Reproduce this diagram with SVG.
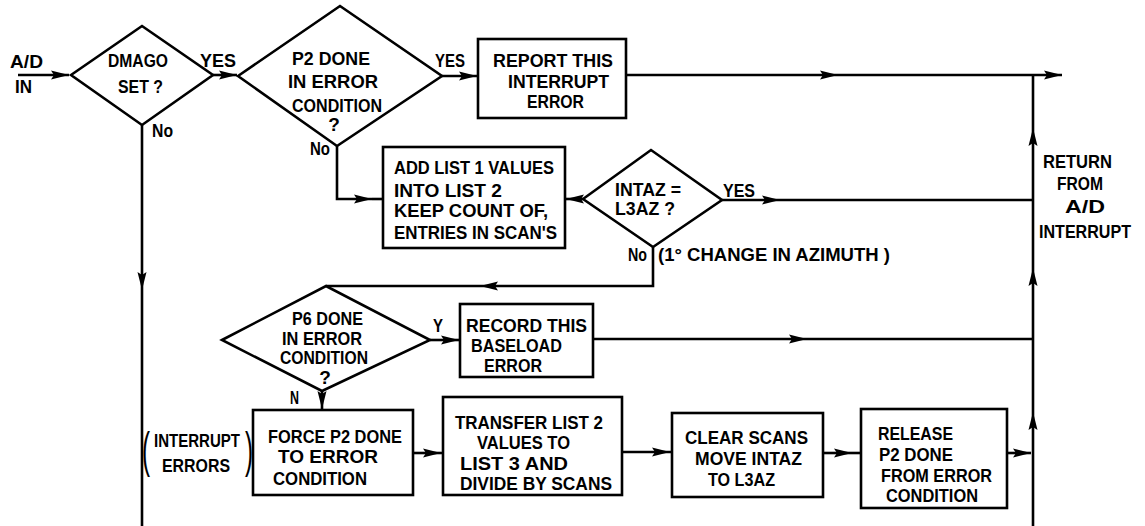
<svg xmlns="http://www.w3.org/2000/svg" width="1145" height="526" viewBox="0 0 1145 526">
<style>
.bg{fill:#fff}
.shape{fill:#fff;stroke:#000;stroke-width:2.6;stroke-linejoin:miter}
.ln{fill:none;stroke:#000;stroke-width:2.6}
.t{font-family:"Liberation Sans",Arial,sans-serif;font-weight:bold;font-size:19px;fill:#000}
.p{font-family:"Liberation Sans",Arial,sans-serif;font-weight:normal;font-size:50px;fill:#000}
</style>
<defs>
<marker id="ah" viewBox="-19 -6 20 12" refX="0" refY="0" markerWidth="20" markerHeight="12" markerUnits="userSpaceOnUse" orient="auto">
<path d="M0,0 L-18,-4.5 L-15,0 L-18,4.5 Z" fill="#000"/>
</marker>
</defs>
<rect class="bg" x="0" y="0" width="1145" height="526"/>

<g id="connectors">
<path class="ln" d="M18,75 H69" marker-end="url(#ah)"/>
<path class="ln" d="M213,75 H237" marker-end="url(#ah)"/>
<path class="ln" d="M442,76 H477" marker-end="url(#ah)"/>
<path class="ln" d="M626,75 H838" marker-end="url(#ah)"/>
<path class="ln" d="M838,75 H1062" marker-end="url(#ah)"/>
<path class="ln" d="M142,125 V290" marker-end="url(#ah)"/>
<path class="ln" d="M142,290 V526"/>
<path class="ln" d="M337,146 V199 H372" marker-end="url(#ah)"/>
<path class="ln" d="M372,199 H383"/>
<path class="ln" d="M583,199 H566" marker-end="url(#ah)"/>
<path class="ln" d="M722,200 H780" marker-end="url(#ah)"/>
<path class="ln" d="M780,200 H1033"/>
<path class="ln" d="M653,247 V286 H480" marker-end="url(#ah)"/>
<path class="ln" d="M480,286 H326"/>
<path class="ln" d="M430,340 H459" marker-end="url(#ah)"/>
<path class="ln" d="M593,339 H807" marker-end="url(#ah)"/>
<path class="ln" d="M807,339 H1033"/>
<path class="ln" d="M322,391 V409" marker-end="url(#ah)"/>
<path class="ln" d="M413,453 H441" marker-end="url(#ah)"/>
<path class="ln" d="M441,453 H443"/>
<path class="ln" d="M622,452 H670" marker-end="url(#ah)"/>
<path class="ln" d="M670,452 H672"/>
<path class="ln" d="M823,453 H852" marker-end="url(#ah)"/>
<path class="ln" d="M852,453 H861"/>
<path class="ln" d="M1007,453 H1031" marker-end="url(#ah)"/>
<path class="ln" d="M1033,526 V412" marker-end="url(#ah)"/>
<path class="ln" d="M1033,412 V268" marker-end="url(#ah)"/>
<path class="ln" d="M1033,268 V128" marker-end="url(#ah)"/>
<path class="ln" d="M1033,128 V75"/>
</g>

<g id="entry">
<text class="t" x="10" y="68" textLength="33" lengthAdjust="spacingAndGlyphs">A/D</text>
<text class="t" x="15" y="93" textLength="17" lengthAdjust="spacingAndGlyphs">IN</text>
</g>

<g id="dmago">
<polygon class="shape" points="71,75 142,26 213,75 142,125"/>
<text class="t" x="108" y="67" textLength="60" lengthAdjust="spacingAndGlyphs">DMAGO</text>
<text class="t" x="118" y="93" textLength="45" lengthAdjust="spacingAndGlyphs">SET ?</text>
<text class="t" x="152" y="137" textLength="21" lengthAdjust="spacingAndGlyphs">No</text>
<text class="t" x="200" y="67" textLength="36" lengthAdjust="spacingAndGlyphs">YES</text>
</g>

<g id="p2done">
<polygon class="shape" points="238,76 340,6 442,76 337,146"/>
<text class="t" x="292" y="65" textLength="78" lengthAdjust="spacingAndGlyphs">P2 DONE</text>
<text class="t" x="288" y="88" textLength="90" lengthAdjust="spacingAndGlyphs">IN ERROR</text>
<text class="t" x="292" y="112" textLength="90" lengthAdjust="spacingAndGlyphs">CONDITION</text>
<text class="t" x="334" y="131" text-anchor="middle">?</text>
<text class="t" x="310" y="155" textLength="20" lengthAdjust="spacingAndGlyphs">No</text>
<text class="t" x="435" y="67" textLength="30" lengthAdjust="spacingAndGlyphs">YES</text>
</g>

<g id="report">
<rect class="shape" x="478" y="39" width="148" height="79"/>
<text class="t" x="493" y="67" textLength="120" lengthAdjust="spacingAndGlyphs">REPORT THIS</text>
<text class="t" x="508" y="88" textLength="101" lengthAdjust="spacingAndGlyphs">INTERRUPT</text>
<text class="t" x="527" y="108" textLength="57" lengthAdjust="spacingAndGlyphs">ERROR</text>
</g>

<g id="addlist">
<rect class="shape" x="383" y="147" width="182" height="101"/>
<text class="t" x="394" y="174" textLength="160" lengthAdjust="spacingAndGlyphs">ADD LIST 1 VALUES</text>
<text class="t" x="394" y="197" textLength="108" lengthAdjust="spacingAndGlyphs">INTO LIST 2</text>
<text class="t" x="394" y="217" textLength="154" lengthAdjust="spacingAndGlyphs">KEEP COUNT OF,</text>
<text class="t" x="394" y="239" textLength="163" lengthAdjust="spacingAndGlyphs">ENTRIES IN SCAN'S</text>
</g>

<g id="intaz">
<polygon class="shape" points="583,199 651,150 722,200 653,247"/>
<text class="t" x="615" y="196" textLength="66" lengthAdjust="spacingAndGlyphs">INTAZ =</text>
<text class="t" x="615" y="215" textLength="60" lengthAdjust="spacingAndGlyphs">L3AZ ?</text>
<text class="t" x="723" y="197" textLength="32" lengthAdjust="spacingAndGlyphs">YES</text>
<text class="t" x="628" y="261" textLength="19" lengthAdjust="spacingAndGlyphs">No</text>
<text class="t" x="658" y="261" textLength="232" lengthAdjust="spacingAndGlyphs">(1° CHANGE IN AZIMUTH )</text>
</g>

<g id="p6done">
<polygon class="shape" points="222,340 326,286 430,340 322,391"/>
<text class="t" x="292" y="325" textLength="71" lengthAdjust="spacingAndGlyphs">P6 DONE</text>
<text class="t" x="282" y="345" textLength="80" lengthAdjust="spacingAndGlyphs">IN ERROR</text>
<text class="t" x="280" y="364" textLength="88" lengthAdjust="spacingAndGlyphs">CONDITION</text>
<text class="t" x="325" y="384" text-anchor="middle" font-size="17">?</text>
<text class="t" x="433" y="332" textLength="10" lengthAdjust="spacingAndGlyphs">Y</text>
<text class="t" x="290" y="404" textLength="9" lengthAdjust="spacingAndGlyphs">N</text>
</g>

<g id="record">
<rect class="shape" x="460" y="304" width="133" height="73"/>
<text class="t" x="466" y="332" textLength="121" lengthAdjust="spacingAndGlyphs">RECORD THIS</text>
<text class="t" x="471" y="352" textLength="91" lengthAdjust="spacingAndGlyphs">BASELOAD</text>
<text class="t" x="484" y="372" textLength="58" lengthAdjust="spacingAndGlyphs">ERROR</text>
</g>

<g id="interrupt-errors">
<text class="p" x="142" y="467" textLength="8" lengthAdjust="spacingAndGlyphs">(</text>
<text class="t" x="154" y="447" textLength="86" lengthAdjust="spacingAndGlyphs">INTERRUPT</text>
<text class="t" x="162" y="472" textLength="68" lengthAdjust="spacingAndGlyphs">ERRORS</text>
<text class="p" x="245" y="467" textLength="8" lengthAdjust="spacingAndGlyphs">)</text>
</g>

<g id="force">
<rect class="shape" x="253" y="410" width="160" height="85"/>
<text class="t" x="268" y="443" textLength="134" lengthAdjust="spacingAndGlyphs">FORCE P2 DONE</text>
<text class="t" x="278" y="463" textLength="100" lengthAdjust="spacingAndGlyphs">TO ERROR</text>
<text class="t" x="273" y="485" textLength="94" lengthAdjust="spacingAndGlyphs">CONDITION</text>
</g>

<g id="transfer">
<rect class="shape" x="443" y="397" width="179" height="98"/>
<text class="t" x="455" y="429" textLength="148" lengthAdjust="spacingAndGlyphs">TRANSFER LIST 2</text>
<text class="t" x="477" y="449" textLength="93" lengthAdjust="spacingAndGlyphs">VALUES TO</text>
<text class="t" x="460" y="470" textLength="108" lengthAdjust="spacingAndGlyphs">LIST 3  AND</text>
<text class="t" x="460" y="490" textLength="152" lengthAdjust="spacingAndGlyphs">DIVIDE BY SCANS</text>
</g>

<g id="clear">
<rect class="shape" x="672" y="413" width="151" height="84"/>
<text class="t" x="685" y="444" textLength="123" lengthAdjust="spacingAndGlyphs">CLEAR SCANS</text>
<text class="t" x="695" y="465" textLength="107" lengthAdjust="spacingAndGlyphs">MOVE INTAZ</text>
<text class="t" x="708" y="486" textLength="67" lengthAdjust="spacingAndGlyphs">TO L3AZ</text>
</g>

<g id="release">
<rect class="shape" x="861" y="409" width="146" height="99"/>
<text class="t" x="878" y="440" textLength="75" lengthAdjust="spacingAndGlyphs">RELEASE</text>
<text class="t" x="879" y="461" textLength="74" lengthAdjust="spacingAndGlyphs">P2 DONE</text>
<text class="t" x="881" y="482" textLength="111" lengthAdjust="spacingAndGlyphs">FROM ERROR</text>
<text class="t" x="886" y="502" textLength="92" lengthAdjust="spacingAndGlyphs">CONDITION</text>
</g>

<g id="return">
<text class="t" x="1043" y="168" textLength="69" lengthAdjust="spacingAndGlyphs">RETURN</text>
<text class="t" x="1057" y="190" textLength="46" lengthAdjust="spacingAndGlyphs">FROM</text>
<text class="t" x="1065" y="213" textLength="40" lengthAdjust="spacingAndGlyphs">A/D</text>
<text class="t" x="1039" y="238" font-size="17" textLength="92" lengthAdjust="spacingAndGlyphs">INTERRUPT</text>
</g>
</svg>
